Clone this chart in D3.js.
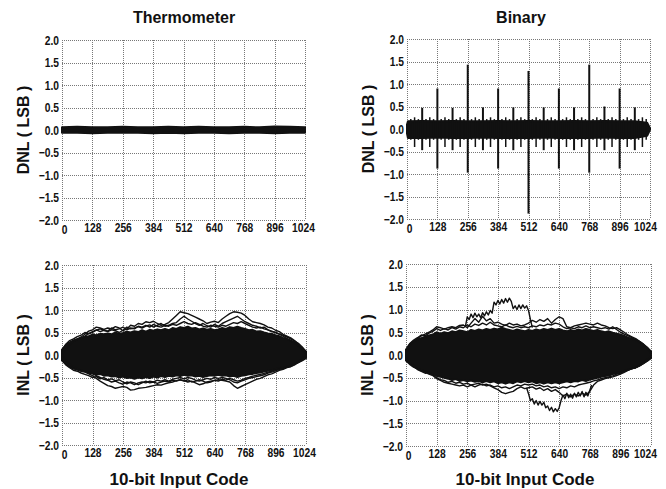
<!DOCTYPE html>
<html>
<head>
<meta charset="utf-8">
<script src="https://cdn.jsdelivr.net/npm/d3@7"></script>
<style>
  body { margin: 0; background: #fff; }
  text { font-family: "Liberation Sans", Arial, sans-serif; font-weight: bold; fill: #111; }
  .tick text { font-size: 12.5px; }
</style>
</head>
<body>
<script>
// DNL / INL of a 10-bit DAC, thermometer vs binary decoding

var codeTicks = [0, 128, 256, 384, 512, 640, 768, 896, 1024];
var lsbTicks = [-2.0, -1.5, -1.0, -0.5, 0.0, 0.5, 1.0, 1.5, 2.0];

// thermometer DNL: thin band around 0
var thermoDnlCodes = [0, 64, 128, 192, 256, 320, 384, 448, 512, 576, 640, 704, 768, 832, 896, 960, 1024];
var thermoDnlUp = [0.06, 0.07, 0.06, 0.06, 0.07, 0.06, 0.06, 0.07, 0.06, 0.07, 0.06, 0.06, 0.07, 0.06, 0.08, 0.07, 0.06];
var thermoDnlLo = [-0.06, -0.06, -0.07, -0.06, -0.06, -0.06, -0.07, -0.06, -0.07, -0.06, -0.06, -0.07, -0.06, -0.06, -0.07, -0.06, -0.06];

// binary DNL: band plus spikes at the carries
var binDnlCodes = [0, 4, 64, 128, 192, 256, 320, 384, 448, 512, 576, 640, 704, 768, 832, 896, 960, 1012, 1024];
var binDnlUp = [0.1, 0.17, 0.18, 0.17, 0.18, 0.17, 0.17, 0.18, 0.17, 0.18, 0.17, 0.17, 0.18, 0.17, 0.18, 0.17, 0.17, 0.14, 0.02];
var binDnlLo = [-0.1, -0.2, -0.2, -0.19, -0.2, -0.2, -0.19, -0.2, -0.2, -0.2, -0.19, -0.2, -0.2, -0.2, -0.19, -0.2, -0.2, -0.15, -0.02];
var spikeCodes = [16, 32, 48, 64, 80, 96, 112, 128, 144, 160, 176, 192, 208, 224, 240, 256,
  272, 288, 304, 320, 336, 352, 368, 384, 400, 416, 432, 448, 464, 480, 496, 512,
  528, 544, 560, 576, 592, 608, 624, 640, 656, 672, 688, 704, 720, 736, 752, 768,
  784, 800, 816, 832, 848, 864, 880, 896, 912, 928, 944, 960, 976, 992, 1008];
var spikeHigh = [0.22, 0.26, 0.22, 0.47, 0.22, 0.26, 0.22, 0.9, 0.22, 0.26, 0.22, 0.47, 0.22, 0.26, 0.22, 1.43,
  0.22, 0.26, 0.22, 0.48, 0.22, 0.26, 0.22, 0.9, 0.22, 0.26, 0.22, 0.48, 0.22, 0.26, 0.22, 1.29,
  0.22, 0.26, 0.22, 0.48, 0.22, 0.26, 0.22, 0.9, 0.22, 0.26, 0.22, 0.48, 0.22, 0.26, 0.22, 1.43,
  0.22, 0.26, 0.22, 0.5, 0.22, 0.26, 0.22, 0.9, 0.22, 0.26, 0.22, 0.48, 0.22, 0.26, 0.22];
var spikeLow = [-0.24, -0.4, -0.24, -0.47, -0.24, -0.4, -0.24, -0.88, -0.24, -0.4, -0.24, -0.47, -0.24, -0.4, -0.24, -0.97,
  -0.24, -0.4, -0.24, -0.47, -0.24, -0.4, -0.24, -0.88, -0.24, -0.4, -0.24, -0.47, -0.24, -0.4, -0.24, -1.88,
  -0.24, -0.4, -0.24, -0.47, -0.24, -0.4, -0.24, -0.88, -0.24, -0.4, -0.24, -0.47, -0.24, -0.4, -0.24, -0.97,
  -0.24, -0.4, -0.24, -0.47, -0.24, -0.4, -0.24, -0.88, -0.24, -0.4, -0.24, -0.47, -0.24, -0.4, -0.24];

// INL: every curve sampled every 16 codes
var inlCodes = [0, 16, 32, 48, 64, 80, 96, 112, 128, 144, 160, 176, 192, 208, 224, 240, 256,
  272, 288, 304, 320, 336, 352, 368, 384, 400, 416, 432, 448, 464, 480, 496, 512,
  528, 544, 560, 576, 592, 608, 624, 640, 656, 672, 688, 704, 720, 736, 752, 768,
  784, 800, 816, 832, 848, 864, 880, 896, 912, 928, 944, 960, 976, 992, 1008, 1024];

// dense core where the runs overlap
var thermoCoreUp = [0.12, 0.22, 0.28, 0.31, 0.35, 0.37, 0.4, 0.42, 0.45, 0.44, 0.47, 0.46, 0.48, 0.46, 0.5, 0.47, 0.49,
  0.52, 0.5, 0.53, 0.51, 0.55, 0.52, 0.56, 0.54, 0.57, 0.55, 0.58, 0.55, 0.6, 0.58, 0.62, 0.6,
  0.63, 0.59, 0.6, 0.57, 0.59, 0.56, 0.58, 0.55, 0.57, 0.6, 0.58, 0.62, 0.6, 0.63, 0.6, 0.58,
  0.55, 0.56, 0.52, 0.53, 0.5, 0.48, 0.47, 0.44, 0.42, 0.38, 0.36, 0.32, 0.28, 0.22, 0.16, 0.08];
var thermoCoreLo = [-0.12, -0.2, -0.26, -0.3, -0.32, -0.35, -0.36, -0.39, -0.4, -0.43, -0.42, -0.46, -0.45, -0.48, -0.47, -0.5, -0.48,
  -0.51, -0.5, -0.53, -0.5, -0.52, -0.49, -0.51, -0.48, -0.5, -0.47, -0.49, -0.46, -0.48, -0.45, -0.47, -0.44,
  -0.46, -0.45, -0.48, -0.46, -0.49, -0.47, -0.45, -0.46, -0.44, -0.46, -0.45, -0.48, -0.46, -0.49, -0.46, -0.45,
  -0.43, -0.42, -0.4, -0.39, -0.37, -0.35, -0.34, -0.31, -0.3, -0.27, -0.26, -0.23, -0.2, -0.16, -0.12, -0.07];
var binCoreUp = [0.12, 0.24, 0.3, 0.34, 0.37, 0.4, 0.43, 0.45, 0.5, 0.47, 0.5, 0.48, 0.52, 0.5, 0.54, 0.52, 0.5,
  0.55, 0.53, 0.56, 0.54, 0.57, 0.55, 0.58, 0.56, 0.6, 0.57, 0.55, 0.53, 0.56, 0.54, 0.52, 0.55,
  0.53, 0.56, 0.54, 0.57, 0.55, 0.58, 0.55, 0.57, 0.54, 0.52, 0.55, 0.53, 0.56, 0.54, 0.57, 0.55,
  0.53, 0.55, 0.52, 0.5, 0.52, 0.49, 0.47, 0.45, 0.42, 0.38, 0.36, 0.32, 0.28, 0.22, 0.16, 0.08];
var binCoreLo = [-0.12, -0.2, -0.26, -0.3, -0.33, -0.36, -0.4, -0.42, -0.46, -0.48, -0.5, -0.52, -0.55, -0.53, -0.57, -0.55, -0.58,
  -0.56, -0.59, -0.57, -0.6, -0.57, -0.6, -0.58, -0.62, -0.6, -0.63, -0.6, -0.62, -0.58, -0.6, -0.57, -0.6,
  -0.58, -0.62, -0.6, -0.63, -0.6, -0.62, -0.6, -0.62, -0.6, -0.58, -0.6, -0.57, -0.58, -0.55, -0.57, -0.54,
  -0.52, -0.5, -0.48, -0.46, -0.45, -0.42, -0.4, -0.38, -0.35, -0.32, -0.3, -0.27, -0.23, -0.18, -0.13, -0.07];

// outlying runs, thermometer
var thermoRunA = [0.05, 0.18, 0.27, 0.33, 0.36, 0.4, 0.46, 0.53, 0.56, 0.62, 0.6, 0.57, 0.6, 0.58, 0.63, 0.6, 0.54,
  0.58, 0.66, 0.64, 0.7, 0.68, 0.74, 0.72, 0.75, 0.7, 0.66, 0.68, 0.72, 0.8, 0.88, 0.96, 0.94,
  0.92, 0.88, 0.84, 0.8, 0.76, 0.7, 0.73, 0.75, 0.72, 0.8, 0.86, 0.92, 0.96, 0.95, 0.93, 0.88,
  0.8, 0.74, 0.72, 0.7, 0.67, 0.62, 0.6, 0.55, 0.52, 0.46, 0.42, 0.38, 0.32, 0.24, 0.14, 0.03];
var thermoRunB = [0.0, 0.14, 0.22, 0.3, 0.34, 0.38, 0.42, 0.48, 0.5, 0.55, 0.58, 0.55, 0.52, 0.56, 0.54, 0.5, 0.55,
  0.62, 0.58, 0.6, 0.63, 0.6, 0.64, 0.67, 0.62, 0.66, 0.7, 0.64, 0.66, 0.7, 0.72, 0.8, 0.86,
  0.8, 0.75, 0.7, 0.66, 0.7, 0.65, 0.62, 0.68, 0.64, 0.7, 0.74, 0.78, 0.82, 0.86, 0.8, 0.74,
  0.7, 0.66, 0.64, 0.6, 0.62, 0.56, 0.52, 0.5, 0.46, 0.42, 0.36, 0.32, 0.26, 0.2, 0.12, 0.02];
var thermoRunE = [0.1, 0.24, 0.32, 0.36, 0.41, 0.44, 0.5, 0.47, 0.52, 0.56, 0.52, 0.55, 0.53, 0.6, 0.56, 0.58, 0.62,
  0.56, 0.6, 0.58, 0.64, 0.62, 0.66, 0.62, 0.68, 0.64, 0.62, 0.66, 0.64, 0.68, 0.66, 0.7, 0.74,
  0.7, 0.68, 0.72, 0.68, 0.64, 0.62, 0.66, 0.64, 0.62, 0.66, 0.64, 0.68, 0.72, 0.7, 0.74, 0.7,
  0.66, 0.62, 0.6, 0.62, 0.58, 0.56, 0.53, 0.5, 0.47, 0.44, 0.4, 0.36, 0.31, 0.26, 0.18, 0.06];
var thermoRunC = [-0.05, -0.17, -0.24, -0.3, -0.33, -0.36, -0.38, -0.42, -0.46, -0.52, -0.58, -0.63, -0.68, -0.7, -0.74, -0.72, -0.7,
  -0.72, -0.78, -0.77, -0.74, -0.73, -0.72, -0.7, -0.68, -0.66, -0.67, -0.64, -0.62, -0.6, -0.57, -0.55, -0.57,
  -0.6, -0.58, -0.62, -0.66, -0.64, -0.6, -0.58, -0.57, -0.55, -0.56, -0.58, -0.6, -0.68, -0.74, -0.7, -0.66,
  -0.62, -0.58, -0.54, -0.52, -0.48, -0.44, -0.42, -0.38, -0.34, -0.32, -0.28, -0.26, -0.22, -0.15, -0.1, -0.03];
var thermoRunD = [0.0, -0.12, -0.2, -0.26, -0.3, -0.34, -0.36, -0.4, -0.42, -0.46, -0.5, -0.54, -0.56, -0.6, -0.58, -0.62, -0.65,
  -0.6, -0.62, -0.66, -0.62, -0.6, -0.62, -0.58, -0.6, -0.56, -0.58, -0.55, -0.58, -0.54, -0.52, -0.5, -0.53,
  -0.5, -0.52, -0.56, -0.58, -0.55, -0.52, -0.54, -0.5, -0.52, -0.5, -0.52, -0.55, -0.6, -0.62, -0.58, -0.55,
  -0.52, -0.5, -0.48, -0.46, -0.44, -0.4, -0.38, -0.35, -0.32, -0.3, -0.27, -0.24, -0.2, -0.14, -0.08, 0.0];
var thermoRunF = [-0.1, -0.22, -0.28, -0.34, -0.36, -0.4, -0.43, -0.46, -0.5, -0.48, -0.53, -0.5, -0.55, -0.53, -0.57, -0.55, -0.6,
  -0.64, -0.6, -0.62, -0.66, -0.62, -0.58, -0.62, -0.6, -0.63, -0.6, -0.58, -0.6, -0.56, -0.58, -0.55, -0.58,
  -0.55, -0.6, -0.58, -0.55, -0.58, -0.62, -0.6, -0.56, -0.58, -0.54, -0.56, -0.52, -0.55, -0.58, -0.56, -0.52,
  -0.5, -0.47, -0.45, -0.43, -0.41, -0.38, -0.36, -0.33, -0.31, -0.29, -0.27, -0.25, -0.21, -0.17, -0.12, -0.05];

// outlying runs, binary
var binRunA = [0.05, 0.2, 0.3, 0.36, 0.42, 0.46, 0.5, 0.55, 0.62, 0.6, 0.57, 0.6, 0.62, 0.6, 0.65, 0.66, 0.6,
  0.7, 0.8, 0.72, 0.85, 0.75, 0.8, 0.7, 0.72, 0.68, 0.65, 0.7, 0.66, 0.68, 0.64, 0.66, 0.7,
  0.76, 0.72, 0.78, 0.74, 0.8, 0.7, 0.78, 0.84, 0.8, 0.62, 0.6, 0.64, 0.66, 0.68, 0.7, 0.68,
  0.66, 0.7, 0.66, 0.64, 0.6, 0.58, 0.6, 0.55, 0.5, 0.44, 0.4, 0.36, 0.3, 0.24, 0.14, 0.03];
var binRunE = [0.1, 0.25, 0.33, 0.38, 0.44, 0.42, 0.48, 0.52, 0.58, 0.54, 0.58, 0.55, 0.6, 0.57, 0.62, 0.6, 0.66,
  0.62, 0.68, 0.65, 0.7, 0.66, 0.72, 0.66, 0.64, 0.62, 0.66, 0.62, 0.6, 0.63, 0.6, 0.62, 0.6,
  0.64, 0.62, 0.66, 0.64, 0.68, 0.66, 0.7, 0.68, 0.62, 0.58, 0.6, 0.58, 0.62, 0.6, 0.64, 0.6,
  0.62, 0.6, 0.58, 0.6, 0.57, 0.62, 0.56, 0.5, 0.46, 0.42, 0.38, 0.34, 0.3, 0.24, 0.17, 0.06];
var binRunC = [-0.05, -0.15, -0.23, -0.3, -0.35, -0.38, -0.42, -0.45, -0.52, -0.56, -0.6, -0.62, -0.64, -0.66, -0.68, -0.66, -0.7,
  -0.66, -0.64, -0.62, -0.66, -0.64, -0.68, -0.72, -0.76, -0.82, -0.85, -0.82, -0.8, -0.74, -0.7, -0.74, -0.72,
  -0.7, -0.75, -0.72, -0.78, -0.74, -0.8, -0.76, -0.82, -0.9, -0.86, -0.92, -0.86, -0.9, -0.84, -0.88, -0.8,
  -0.66, -0.58, -0.55, -0.52, -0.5, -0.48, -0.45, -0.42, -0.38, -0.34, -0.3, -0.28, -0.24, -0.18, -0.1, -0.03];
var binRunF = [-0.1, -0.18, -0.25, -0.32, -0.36, -0.4, -0.38, -0.44, -0.5, -0.54, -0.56, -0.6, -0.58, -0.62, -0.6, -0.64, -0.62,
  -0.66, -0.7, -0.66, -0.64, -0.68, -0.66, -0.7, -0.68, -0.72, -0.7, -0.74, -0.7, -0.66, -0.68, -0.64, -0.66,
  -0.64, -0.68, -0.66, -0.7, -0.68, -0.72, -0.7, -0.74, -0.7, -0.72, -0.68, -0.7, -0.66, -0.64, -0.62, -0.6,
  -0.57, -0.55, -0.52, -0.5, -0.48, -0.46, -0.42, -0.4, -0.36, -0.33, -0.3, -0.28, -0.24, -0.19, -0.13, -0.05];

// binary INL: two runs with large stepped excursions, sampled every 8 codes
var binHighCodes = [248, 256, 264, 272, 280, 288, 296, 304, 312, 320, 328, 336, 344, 352, 360, 368, 376, 384,
  392, 400, 408, 416, 424, 432, 440, 448, 456, 464, 472, 480, 488, 496, 504, 512, 520, 528];
var binHighRun = [0.62, 0.84, 0.78, 0.9, 0.82, 0.92, 0.84, 0.9, 0.82, 0.93, 0.86, 0.95, 0.88, 0.98, 0.92, 1.16, 1.1, 1.2,
  1.12, 1.22, 1.14, 1.24, 1.16, 1.25, 1.18, 1.02, 1.08, 1.0, 1.1, 1.02, 1.1, 1.03, 1.08, 0.98, 0.78, 0.6];
var binLowCodes = [504, 512, 520, 528, 536, 544, 552, 560, 568, 576, 584, 592, 600, 608, 616, 624, 632, 640,
  648, 656, 664, 672, 680, 688, 696, 704, 712, 720, 728, 736, 744, 752, 760, 768, 776];
var binLowRun = [-0.72, -0.85, -1.0, -0.96, -1.08, -1.0, -1.1, -1.02, -1.1, -1.04, -1.16, -1.12, -1.22, -1.15, -1.25, -1.18, -1.24, -1.16,
  -1.0, -0.88, -0.96, -0.84, -0.94, -0.86, -0.95, -0.84, -0.92, -0.82, -0.9, -0.8, -0.92, -0.82, -0.9, -0.78, -0.66];

var ink = "#111";

var svg = d3.select("body").append("svg")
    .attr("width", 666)
    .attr("height", 489);

// squeeze tick labels to the narrow face of the original
function narrow(sel) {
    sel.selectAll(".tick text").each(function() {
        var w = this.getComputedTextLength();
        d3.select(this).attr("textLength", w * 0.82).attr("lengthAdjust", "spacingAndGlyphs")
            .attr("fill", ink);
    });
}

function makePanel(box, yLabel, lastShift) {
    var x = d3.scaleLinear().domain([0, 1024]).range([box.x, box.x + box.w]);
    var y = d3.scaleLinear().domain([-2, 2]).range([box.y + box.h, box.y]);
    var g = svg.append("g");

    // dotted grid, borders included
    g.selectAll(".vgrid").data(codeTicks).enter().append("line")
        .attr("x1", function(d) { return Math.round(x(d)) + 0.5; })
        .attr("x2", function(d) { return Math.round(x(d)) + 0.5; })
        .attr("y1", y(2)).attr("y2", y(-2))
        .attr("stroke", "#777").attr("stroke-dasharray", "1,1");
    g.selectAll(".hgrid").data(lsbTicks).enter().append("line")
        .attr("y1", function(d) { return Math.round(y(d)) + 0.5; })
        .attr("y2", function(d) { return Math.round(y(d)) + 0.5; })
        .attr("x1", x(0)).attr("x2", x(1024))
        .attr("stroke", "#777").attr("stroke-dasharray", "1,1");

    var data = svg.append("g");

    var yAxis = d3.axisLeft(y).tickValues(lsbTicks).tickSize(0).tickPadding(3)
        .tickFormat(d3.format(".1f"));
    svg.append("g").attr("transform", "translate(" + box.x + ",0)").call(yAxis)
        .call(function(a) { a.select(".domain").remove(); })
        .call(narrow);
    var xAxis = d3.axisBottom(x).tickValues(codeTicks).tickSize(0).tickPadding(3)
        .tickFormat(d3.format("d"));
    svg.append("g").attr("transform", "translate(0," + (box.y + box.h) + ")").call(xAxis)
        .call(function(a) {
            a.select(".domain").remove();
            a.selectAll(".tick").filter(function(d) { return d === 0; })
                .select("text").attr("dx", 2).attr("y", 5);
            a.selectAll(".tick").filter(function(d) { return d === 1024; })
                .select("text").attr("dx", -lastShift);
        })
        .call(narrow);

    svg.append("text")
        .attr("transform", "translate(" + (box.x - 33) + "," + (box.y + box.h / 2) + ") rotate(-90)")
        .attr("text-anchor", "middle")
        .style("font-size", "16px")
        .text(yLabel);

    return { x: x, y: y, g: data };
}

function band(p, codes, up, lo) {
    var area = d3.area()
        .x(function(d, i) { return p.x(codes[i]); })
        .y0(function(d, i) { return p.y(lo[i]); })
        .y1(function(d, i) { return p.y(up[i]); });
    p.g.append("path")
        .attr("d", area(codes))
        .attr("fill", ink)
        .attr("stroke", ink)
        .attr("stroke-width", 2)
        .attr("stroke-linejoin", "round");
}

function run(p, codes, vals, width) {
    var line = d3.line()
        .x(function(d, i) { return p.x(codes[i]); })
        .y(function(d) { return p.y(d); });
    p.g.append("path")
        .attr("d", line(vals))
        .attr("fill", "none")
        .attr("stroke", ink)
        .attr("stroke-width", width)
        .attr("stroke-linejoin", "round");
}

// Thermometer DNL
var p1 = makePanel({ x: 62, y: 40, w: 243, h: 180 }, "DNL ( LSB )", 2);
band(p1, thermoDnlCodes, thermoDnlUp, thermoDnlLo);

// Binary DNL
var p2 = makePanel({ x: 407, y: 39, w: 243, h: 180 }, "DNL ( LSB )", 5);
band(p2, binDnlCodes, binDnlUp, binDnlLo);
p2.g.selectAll(".spike").data(spikeCodes).enter().append("line")
    .attr("x1", function(d) { return p2.x(d); })
    .attr("x2", function(d) { return p2.x(d); })
    .attr("y1", function(d, i) { return p2.y(spikeHigh[i]); })
    .attr("y2", function(d, i) { return p2.y(spikeLow[i]); })
    .attr("stroke", ink)
    .attr("stroke-width", function(d, i) { return spikeHigh[i] > 0.4 ? 2 : 1.5; });

// Thermometer INL
var p3 = makePanel({ x: 62, y: 265, w: 244, h: 180 }, "INL ( LSB )", 2);
band(p3, inlCodes, thermoCoreUp, thermoCoreLo);
[thermoRunE, thermoRunB, thermoRunA, thermoRunF, thermoRunD, thermoRunC].forEach(function(r) {
    run(p3, inlCodes, r, 1.4);
});

// Binary INL
var p4 = makePanel({ x: 406, y: 264, w: 245, h: 182 }, "INL ( LSB )", 6);
band(p4, inlCodes, binCoreUp, binCoreLo);
[binRunE, binRunA, binRunF, binRunC].forEach(function(r) {
    run(p4, inlCodes, r, 1.4);
});
run(p4, binHighCodes, binHighRun, 1.4);
run(p4, binLowCodes, binLowRun, 1.4);

// titles
svg.append("text").attr("x", 184).attr("y", 23).attr("text-anchor", "middle")
    .style("font-size", "16px").text("Thermometer");
svg.append("text").attr("x", 521).attr("y", 23).attr("text-anchor", "middle")
    .style("font-size", "16px").text("Binary");
svg.append("text").attr("x", 179).attr("y", 485).attr("text-anchor", "middle")
    .style("font-size", "17px").text("10-bit Input Code");
svg.append("text").attr("x", 525).attr("y", 485).attr("text-anchor", "middle")
    .style("font-size", "17px").text("10-bit Input Code");
</script>
</body>
</html>
